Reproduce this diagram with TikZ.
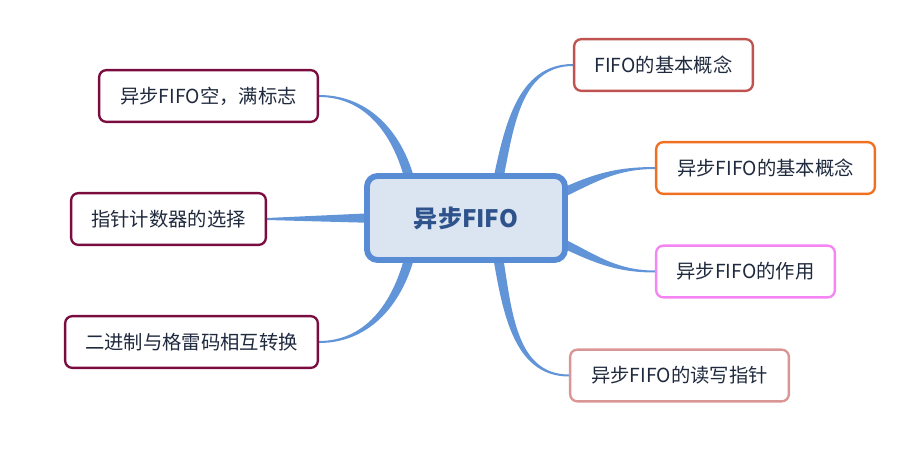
\documentclass[tikz,border=0pt]{standalone}
\usepackage{fontspec}
\setmainfont{Noto Sans CJK SC}
\usetikzlibrary{positioning, calc, backgrounds}
\definecolor{hubfill}{RGB}{219,229,241}
\definecolor{hubline}{RGB}{88,141,213}
\definecolor{hubtext}{RGB}{46,82,140}
\definecolor{branchblue}{RGB}{98,148,216}
\definecolor{topictext}{RGB}{32,42,62}
\definecolor{linebasic}{RGB}{192,82,80}
\definecolor{lineasync}{RGB}{238,112,32}
\definecolor{linerole}{RGB}{245,132,245}
\definecolor{lineptr}{RGB}{217,150,148}
\definecolor{lineleft}{RGB}{122,12,64}

\begin{document}
\begin{tikzpicture}[
    x=0.03cm, y=0.03cm,
    hub/.style={rectangle, draw=hubline, fill=hubfill, line width=5pt, rounded corners=9pt, minimum width=5.94cm, minimum height=2.52cm, text=hubtext, font=\fontsize{20.5}{24}\selectfont\bfseries},
    topic/.style={rectangle, draw, fill=white, line width=2pt, rounded corners=6pt, minimum height=1.55cm, text=topictext, font=\fontsize{16.5}{19}\selectfont},
    branch/.style={fill=branchblue}
]
\useasboundingbox (0,0) rectangle (923,-450);

\node[hub] (hub) at (466,-218) {异步FIFO};

% right side
\node[topic, draw=linebasic, minimum width=5.36cm] (basic) at (663.5,-65) {FIFO的基本概念};
\node[topic, draw=lineasync, minimum width=6.56cm] (asyncbasic) at (765.5,-168) {异步FIFO的基本概念};
\node[topic, draw=linerole, minimum width=5.36cm] (role) at (745.5,-271.5) {异步FIFO的作用};
\node[topic, draw=lineptr, minimum width=6.56cm] (pointer) at (679.5,-375.5) {异步FIFO的读写指针};

% left side
\node[topic, draw=lineleft, minimum width=6.56cm] (flag) at (208.5,-96) {异步FIFO空，满标志};
\node[topic, draw=lineleft, minimum width=5.84cm] (counter) at (168.5,-219) {指针计数器的选择};
\node[topic, draw=lineleft, minimum width=7.58cm] (gray) at (191.5,-342) {二进制与格雷码相互转换};

\begin{scope}[on background layer]
\fill[branch] ($(hub.north)+(26,-12)$) to[out=78,in=180] ($(basic.west)+(0,1)$)
    -- ($(basic.west)+(0,-1)$) to[out=180,in=78] ($(hub.north)+(36,-12)$) -- cycle;
\fill[branch] ($(hub.east)+(-12,27)$) to[out=25,in=180] ($(asyncbasic.west)+(0,1)$)
    -- ($(asyncbasic.west)+(0,-1)$) to[out=180,in=25] ($(hub.east)+(-12,17)$) -- cycle;
\fill[branch] ($(hub.east)+(-12,-17)$) to[out=-25,in=180] ($(role.west)+(0,1)$)
    -- ($(role.west)+(0,-1)$) to[out=180,in=-25] ($(hub.east)+(-12,-27)$) -- cycle;
\fill[branch] ($(hub.south)+(26,12)$) to[out=-80,in=180] ($(pointer.west)+(0,-1)$)
    -- ($(pointer.west)+(0,1)$) to[out=180,in=-80] ($(hub.south)+(36,12)$) -- cycle;
\fill[branch] ($(hub.north)+(-50,-12)$) to[out=103,in=0] ($(flag.east)+(0,1)$)
    -- ($(flag.east)+(0,-1)$) to[out=0,in=103] ($(hub.north)+(-60,-12)$) -- cycle;
\fill[branch] ($(hub.west)+(12,5)$) -- ($(counter.east)+(0,1)$)
    -- ($(counter.east)+(0,-1)$) -- ($(hub.west)+(12,-5)$) -- cycle;
\fill[branch] ($(hub.south)+(-50,12)$) to[out=-103,in=0] ($(gray.east)+(0,-1)$)
    -- ($(gray.east)+(0,1)$) to[out=0,in=-103] ($(hub.south)+(-60,12)$) -- cycle;
\end{scope}
\end{tikzpicture}
\end{document}
